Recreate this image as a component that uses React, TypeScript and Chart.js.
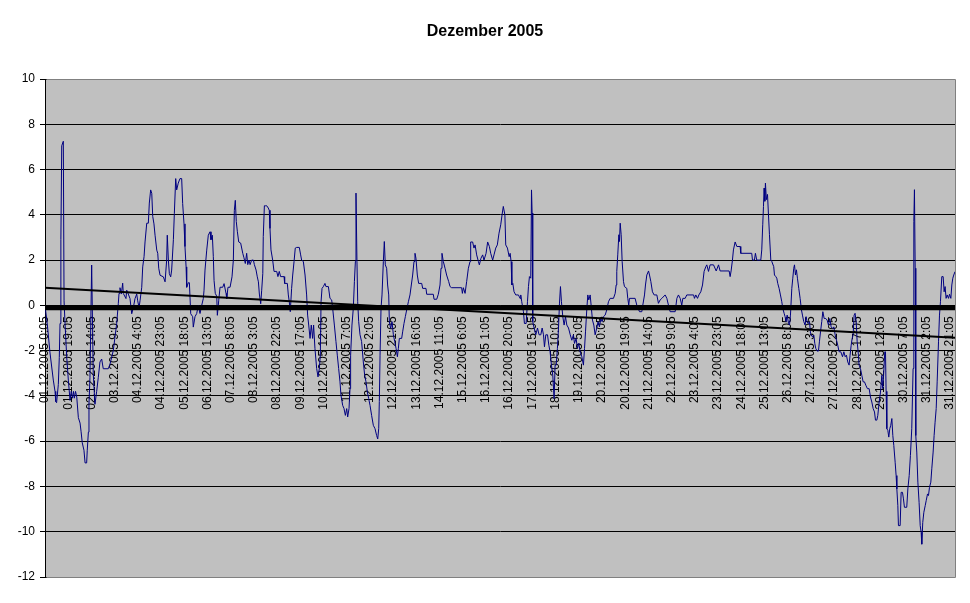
import React, { useEffect, useRef } from "react";
import { Chart, registerables } from "chart.js";

Chart.register(...registerables);

const chartTitle = "Dezember 2005";
const fontFamily = "'Liberation Sans', Arial, Helvetica, sans-serif";

const xTickLabels = [
  "01.12.2005 0:05", "01.12.2005 19:05", "02.12.2005 14:05", "03.12.2005 9:05",
  "04.12.2005 4:05", "04.12.2005 23:05", "05.12.2005 18:05", "06.12.2005 13:05",
  "07.12.2005 8:05", "08.12.2005 3:05", "08.12.2005 22:05", "09.12.2005 17:05",
  "10.12.2005 12:05", "11.12.2005 7:05", "12.12.2005 2:05", "12.12.2005 21:05",
  "13.12.2005 16:05", "14.12.2005 11:05", "15.12.2005 6:05", "16.12.2005 1:05",
  "16.12.2005 20:05", "17.12.2005 15:05", "18.12.2005 10:05", "19.12.2005 5:05",
  "20.12.2005 0:05", "20.12.2005 19:05", "21.12.2005 14:05", "22.12.2005 9:05",
  "23.12.2005 4:05", "23.12.2005 23:05", "24.12.2005 18:05", "25.12.2005 13:05",
  "26.12.2005 8:05", "27.12.2005 3:05", "27.12.2005 22:05", "28.12.2005 17:05",
  "29.12.2005 12:05", "30.12.2005 7:05", "31.12.2005 2:05", "31.12.2005 21:05",
];
const labelEveryHours = 19;
const xMin = 0;
const xMax = 745;

// hours since 01.12.2005 0:05
const seriesHours = [
  0, 2, 4.1, 6.8, 8.2, 8.8, 9.5, 10.9, 11.7, 12.3, 13, 13.7, 15, 15.6, 16.4, 17.8, 19.1, 20.5,
  21.5, 22.5, 23.3, 24, 25, 26, 27.3, 28.7, 29.5, 30.5, 31.9, 32.8, 34.1, 34.6, 35.5, 36, 36.8,
  38.2, 39.5, 40.9, 42.3, 43.6, 45, 46.4, 47.7, 51.8, 53.2, 55.9, 57.3, 58.7, 60, 60.6, 61.4,
  62.5, 63.6, 64.1, 66.3, 66.9, 68.2, 69.6, 71, 72.3, 73.7, 75.1, 75.9, 77, 77.8, 79.2, 80,
  81.1, 81.9, 83.3, 84.6, 85.4, 86.5, 87.4, 88.2, 89.2, 90.1, 91.5, 92.3, 93.1, 94.2, 96.9,
  98.3, 99.6, 100.1, 101, 101.8, 102.9, 103.7, 105.1, 105.9, 107, 107.8, 109.1, 110.5, 111.9,
  112.7, 113.8, 114.6, 115.5, 116, 117.3, 118.2, 119.3, 120.9, 121.4, 122.8, 124.2, 125.5,
  126.9, 128.3, 129.6, 130.2, 131, 132.4, 133.7, 135.1, 135.9, 137, 137.8, 138.4, 139.4,
  140.6, 141.1, 142.2, 143.3, 145.5, 146.6, 148.2, 148.8, 149.8, 151.5, 153.1, 154.2, 155,
  155.8, 156.6, 157.5, 158.6, 160.2, 161.9, 162.9, 164, 165.1, 166, 167, 167.9, 169.2, 170.6,
  171.4, 172.8, 173.8, 174.7, 175.5, 176.6, 177.4, 178.3, 178.7, 179.6, 180.4, 181.5, 182.8,
  183.6, 184.2,
  185, 186.4, 187.5, 189.7, 190.7, 191.8, 192.9, 195.7, 196.2, 198.4, 199.2, 200, 200.8,
  201.9, 202.8, 203.9, 204.9, 206, 208.2, 209.3, 210.1, 211.5, 212.9, 214.2, 215, 215.9, 217,
  218, 219.1, 219.9, 221, 222.4, 223.5, 224.6, 225.4, 226, 226.8, 227.9, 229.2, 230, 232,
  233.3, 234.7, 235.5, 236.9, 238.2, 239.3, 240.4, 241.5, 242.3, 243.7, 244.8, 245.9, 247,
  247.8, 248.9, 249.7, 250.2, 251.3, 252.4, 253.3, 254.1, 254.6, 255.4, 256, 256.8, 257.9,
  259.2, 260.6, 261.7, 262.8, 263.9, 265, 266.1, 267.4, 268.8, 270.2, 271.5, 272.4, 273.2,
  273.7, 274.3, 275.1, 275.9, 277, 277.8, 278.6, 279.7, 280.5, 281.4, 281.9, 283, 284.1,
  285.2, 286.3, 287.4, 288.5, 289.3, 290.1, 292, 292.8, 293.9, 295, 296.1, 297.5, 298.8,
  299.9, 301, 302.1, 302.9, 303.7, 304.8, 305.9, 308.4, 309.2, 311.9, 312.5, 317.9, 318.5,
  320.7, 322, 323.4, 324.2, 325, 326.1, 327.5, 328.8, 330.5, 331.6, 332.9, 341.1, 341.7,
  342.5, 343.9, 345.2, 346.6, 348, 348.5, 350.1, 351.2, 352.1, 353.4, 354.8, 355.6, 356.9,
  358.3, 359.4, 361.1, 362.4, 363.8, 364.9, 366.5, 367.6, 369, 370.3, 371.7, 373.1, 374.4,
  375.2,
  376.5, 377.2, 378.6, 380, 380.8, 381.6, 382.2, 383, 384, 385.4, 387.6, 389, 389.5, 390.3,
  391.7, 392.5, 393.9, 395, 395.8, 396.6, 397.7, 398.3, 398.8, 399.3, 400.4, 401.8, 403.2,
  404.5, 405.9, 407, 408.1, 408.9, 410, 411.4, 412.5, 413.5, 414.6, 415.7, 416.8, 417.6,
  418.5, 419.5, 420.4, 421.2, 422, 422.8, 423.9, 425, 426.1, 427.2, 428.6, 430, 431.3, 432.6,
  433.5, 434.8, 435.9, 437, 438.1, 439.5, 440.8, 441.7, 442.5, 443.6, 444.4, 445.2, 446.3,
  447.1, 448.2, 449.3, 450.4, 451.7, 452.8, 453.9, 455, 456.1, 457.2, 458.6, 459.9, 461.3,
  462.7, 465.4, 466.8, 467.6, 468.1, 468.9, 469.8, 470.3, 470.9, 471.7, 472.5, 473.6, 474.4,
  476.3, 477.1, 477.9, 478.5, 483.1, 484.5, 486.7, 488.6, 489.4, 490.8, 491.6, 492.7, 494.1,
  494.9, 496, 497.3, 498.7, 500.9, 502.2, 503.6, 505, 507.7, 509.1, 510.4, 511.8, 515.9,
  517.3, 518.6, 520, 521.3, 522.2, 524.1, 525.4, 531, 531.7, 532.8, 534.2, 535.3, 536.9,
  538.3, 539.6, 541, 541.8, 543.2, 544.5, 547.3, 549.5, 551.4, 552.7, 560.1, 560.9, 561.7,
  562.8, 563.6,
  565, 566.4, 569.1, 569.6, 578.6, 579.2, 580.8, 581.6, 582.7, 586, 586.8, 587.6, 588.2,
  588.7, 589.3, 589.8, 590.6, 591.5, 592.3, 593.1, 594.2, 595, 596.6, 597.2, 598.3, 599.1,
  599.9, 601, 602.1, 603.2, 604, 605.1, 605.9, 606.7, 607.6, 608.7, 609.5, 610.3, 611.4,
  612.2, 613, 613.6, 614.4, 615.2, 616, 617.1, 618.2, 619.3, 620.1, 621.2, 622.3, 623.1,
  623.9, 624.8, 625.9, 626.7, 627.2, 628.3, 629.4, 630.2, 631, 632.1, 633.2, 634, 634.9,
  635.9, 636.8, 637.9, 639.2, 640.3, 641.4, 642.5, 643.6, 644.7, 645.8, 646.9, 648, 649,
  650.1, 651.5, 652.9, 654, 655.1, 656.1, 657.2, 658.3, 659.1, 660, 660.8, 661.6, 662.4,
  663.2, 664.1, 664.9, 665.7, 666.5, 667.6, 668.7, 669.8, 670.9, 672, 673.3, 674.7, 675.8,
  676.9, 678, 679.1, 679.9, 681, 681.8, 682.9, 684, 685.1, 685.9, 686.7, 687.5, 688.1, 688.6,
  689.2, 690, 690.8, 691.6, 692.4, 693.3, 694.1, 694.9, 696, 696.8, 697.4, 698.2, 698.7,
  700.1, 700.9, 702, 702.8, 703.6, 705.5, 706.4, 707.5, 708.5, 709.6, 710.7, 711.3, 711.8,
  712.4, 712.9, 713.7, 714.6, 715.6, 716.5, 717.3, 717.8, 718.6, 719.5, 720.6, 721.4, 722.5,
  723.3, 724.1, 725.2, 726, 727.1, 727.9, 728.7, 729.6, 730.4, 731.5, 732.3, 733.1, 734.2,
  735.3, 736.1, 736.9, 737.7, 738.6, 739.7, 740.5, 741.6, 742.4, 743.2, 744, 745,
];

const seriesValues = [
  0, -0.9, -2.1, -3.3, -3.8, -4.25, -4.3, -3.5, -2.3, -0.8, 2.9, 7.05, 7.25, 0.2, -0.8, -2.3, -3.3, -4.2,
  -3.8, -4.1, -3.8, -4.1, -3.8, -4.05, -4.96, -5.2, -5.56, -6.07, -6.4, -6.96, -6.96, -6.4, -5.6, -4.37, -3.2,
  1.78, -3.0, -4.37, -3.8, -3.2, -2.5, -2.37, -2.8, -2.8, -2.6, -2.0, -1.4, -0.8, 0.07, 0.53, 0.78,
  0.5, 0.98, 0.53, 0.3, 0.67, 0.5, 0.3, -0.37, -0.1, 0.3, 0.5, 0.2, -0.1, 0.2, 0.8, 1.7,
  2.15, 2.8, 3.63, 3.63, 4.52, 5.1, 4.95, 3.93, 3.6, 3.1, 2.44, 2.3, 1.64, 1.33, 1.26,
  1.04, 2.0, 3.1, 2.0, 1.4, 1.26, 1.56, 2.9, 4.07, 5.6, 5.1, 5.4, 5.6, 5.6,
  4.5, 3.6, 2.6, 1.7, 0.8, 1.0, 1.0, -0.37, -0.5, -0.96, -0.5, -0.36, 0,
  -0.36, 0, 0.3, 0.67, 1.56, 2.44, 3.1, 3.25, 2.9, 3.1, 2.15, 1.1, 0.53,
  0.4, -0.44, 0.2, 0.8, 0.8, 0.96, 0.53, 0.3, 0.8, 0.8, 1.26, 2.0, 4.2,
  4.64, 3.7, 3.25, 2.8, 2.75, 2.3, 2.1, 1.85, 2.3, 1.8, 2.0, 1.8, 2.0, 2.0,
  1.8, 1.56, 1.26, 1.04, 0.5, 0.07, 0.67, 1.4, 3.04, 4.4, 4.4, 4.4, 4.3,
  4.2, 3.4,
  2.45, 2.0, 1.5, 1.5, 1.27, 1.5, 1.27, 1.27, 0.97, 0.97, 0.46, 0.16, -0.28,
  0.75, 1.34, 1.94, 2.53, 2.56, 2.56, 2.23, 2.0, 1.94, 1.34, 0.46, -0.43, -0.87, -1.46,
  -0.87, -1.46, -0.87, -1.9, -2.79, -3.16, -2.79, -2.2, 0.16, 0.75, 0.83, 0.97, 0.83, 0.83,
  0.31, 0.24, -0.13, -0.87, -1.6, -2.2, -2.79, -3.38, -3.97, -4.42, -4.56, -4.86, -4.56,
  -4.93, -4.56, -3.68, -2.2, -0.87, -0.13, 1.05, 1.94, 4.96, 1.94, 0.16, -0.72, -1.3,
  -1.6, -2.5, -3.09, -3.38, -3.83, -4.12, -4.42, -4.86, -5.3, -5.45, -5.75, -5.9, -5.45,
  -4.25, -2.2, -0.13, 0.46, 1.94, 2.82, 1.79, 1.64, 0.9, 0.46, -0.72, -1.02, -0.72,
  -1.3, -1.6, -1.9, -2.27, -1.9, -1.46, -1.46, -1.17, -0.8, -0.5, -0.2, 0.16, 0.46,
  0.9, 1.34, 1.94, 2.3, 2.08, 1.34, 0.97, 0.97, 0.75, 0.75, 0.49, 0.49, 0.27,
  0.27, 0.49, 0.9, 1.64, 2.3, 1.94, 1.64, 1.34, 1.05, 0.83, 0.78, 0.78, 0.53,
  0.78, 0.53, 1.05, 1.64, 1.94, 2.8, 2.8, 2.53, 2.67, 2.23, 1.94, 1.79, 2.08,
  2.23, 2.0, 2.3, 2.8, 2.6, 2.3, 2.0, 2.23, 2.53, 2.67, 3.19, 3.56, 4.08,
  4.37,
  4.0, 2.67, 2.53, 2.15, 2.3, 1.93, 0.9, 0.97, 0.6, 0.46, 0.46, 0.3, 0.46, 0.16,
  -0.28, -0.8, -0.8, 0.16, 0.83, 1.27, 1.2, 5.1, 4.08, -0.72, -1.0, -1.3, -1.0,
  -1.3, -1.3, -1.0, -1.3, -1.83, -1.3, -1.3, -1.76, -2.05, -2.64, -3.09, -4.12, -2.64,
  -2.64, -1.9, -1.0, 0.1, 0.83, 0.16, -0.5, -0.87, -0.5, -0.87, -1.0, -1.3, -1.54, -1.3,
  -1.68, -1.46, -1.9, -1.68, -2.05, -2.27, -2.64, -1.9, -1.17, -0.13, 0.46, 0.24, 0.46,
  0.01, -0.65, -0.87, -1.3, -1.0, -0.72, -0.95, -0.58, -0.72, -0.5, -0.43, -0.2, 0.16,
  0.31, 0.31, 0.53, 0.9, 1.5, 2.23, 3.12, 2.82, 3.63, 3.12, 1.94, 1.05, 0.83,
  0.75, 0.31, 0.01, 0.31, 0.31, 0.01, -0.28, -0.28, 0.01, 0.46, 0.9, 1.34, 1.52,
  1.34, 1.05, 0.6, 0.46, 0.46, 0.09, 0.24, 0.31, 0.46, 0.31, 0.01, -0.28, -0.28,
  0.31, 0.46, 0.31, 0.01, 0.31, 0.31, 0.46, 0.46, 0.31, 0.46, 0.31, 0.46, 0.6,
  0.9, 1.5, 1.71, 1.79, 1.5, 1.79, 1.79, 1.52, 1.79, 1.52, 1.52, 1.27, 1.52,
  2.0, 2.45,
  2.8, 2.6, 2.6, 2.3, 2.3, 2.0, 2.0, 2.3, 2.0, 2.0, 2.45, 3.56, 4.37,
  5.18, 4.6, 5.4, 4.67, 4.9, 4.0, 3.12, 2.0, 1.94, 1.71, 1.34, 1.27, 1.2,
  0.97, 0.75, 0.46, 0.16, -0.13, -0.35, -0.5, -0.72, -0.43, -0.8, -0.87, -0.43, 0.75,
  1.2, 1.64, 1.79, 1.34, 1.57, 1.2, 0.75, 0.31, -0.2, -0.43, -0.72, -0.87, -0.5,
  -0.72, -0.8, -0.72, -1.24, -1.31, -1.39, -1.31, -1.68, -1.9, -2.02, -2.02, -1.61, -1.17,
  -0.72, -0.28, -0.58, -0.58, -0.65, -0.87, -0.58, -0.95, -1.02, -0.95, -1.31, -1.54, -1.76,
  -2.05, -2.05, -2.27, -2.05, -2.27, -2.2, -2.5, -2.64, -2.2, -1.76, -1.46, -1.31, -0.43,
  -0.35, -0.72, -1.61, -2.05, -2.64, -2.79, -3.09, -3.38, -3.38, -3.53, -3.68, -3.68, -4.05,
  -4.27, -4.56, -4.71, -5.07, -5.07, -4.86, -4.27, -3.83, -3.09, -3.68, -2.94, -2.05, -2.05, -3.8,
  -5.45, -5.52, -5.82, -5.45, -5.3, -5.0, -5.75, -6.19, -6.93, -7.52, -8.11, -8.85, -9.73,
  -9.73, -8.26, -8.26, -8.55, -8.92, -8.92, -8.11, -7.52, -6.63, -5.45, -2.79, 3.71, 5.11,
  1.64, -5.75, -6.48, -7.81, -8.7, -9.73, -10.03, -10.55, -9.59, -9.14, -8.85, -8.63, -8.33,
  -8.4, -8.04, -7.81, -7.22, -6.48, -5.75, -5.16, -4.56, -3.38, -1.61, -0.43, 0.16, 1.27,
  1.27, 0.6, 0.83, 0.31, 0.46, 0.31, 0.49, 0.31, 0.9, 1.2, 1.34, 1.49,
];

// linear trend of the series
const trendHours = [0, 745];
const trendValues = [0.78, -1.43];

// heavy reference line near zero
const baseLineHours = [0, 745];
const baseLineValues = [-0.1, -0.1];

const yMin = -12;
const yMax = 10;
const yStep = 2;

const plotFrame = {
  id: "plotFrame",
  beforeDraw(chart: any) {
    const { ctx, chartArea: a } = chart;
    ctx.save();
    ctx.fillStyle = "#C0C0C0";
    ctx.fillRect(a.left, a.top, a.right - a.left, a.bottom - a.top);
    ctx.restore();
  },
  afterDraw(chart: any) {
    const { ctx, chartArea: a } = chart;
    const l = Math.round(a.left) + 0.5;
    const r = Math.round(a.right) + 0.5;
    const t = Math.round(a.top) + 0.5;
    const b = Math.round(a.bottom) + 0.5;
    ctx.save();
    ctx.strokeStyle = "#808080";
    ctx.lineWidth = 1;
    ctx.beginPath();
    ctx.moveTo(l + 1, t);
    ctx.lineTo(r, t);
    ctx.lineTo(r, b);
    ctx.lineTo(l + 1, b);
    ctx.stroke();
    ctx.restore();
  },
};

export default function App() {
  const canvasRef = useRef<HTMLCanvasElement | null>(null);

  useEffect(() => {
    const canvas = canvasRef.current;
    if (!canvas) return;
    const chart = new Chart(canvas, {
      type: "line",
      data: {
        datasets: [
          {
            label: "Messwert",
            data: seriesHours.map((h, i) => ({ x: h, y: seriesValues[i] })),
            borderColor: "#000080",
            borderWidth: 1,
            pointRadius: 0,
            tension: 0,
            order: 3,
          },
          {
            label: "Null",
            data: baseLineHours.map((h, i) => ({ x: h, y: baseLineValues[i] })),
            borderColor: "#000000",
            borderWidth: 5,
            pointRadius: 0,
            order: 2,
          },
          {
            label: "Trend",
            data: trendHours.map((h, i) => ({ x: h, y: trendValues[i] })),
            borderColor: "#000000",
            borderWidth: 2,
            pointRadius: 0,
            order: 1,
          },
        ],
      },
      options: {
        animation: false,
        responsive: false,
        devicePixelRatio: 1,
        events: [],
        layout: { padding: { top: 0, left: 15, right: 15, bottom: 26 } },
        plugins: {
          legend: { display: false },
          tooltip: { enabled: false },
          title: {
            display: true,
            text: chartTitle,
            color: "#000000",
            font: { family: fontFamily, size: 16, weight: "bold", lineHeight: 1.2 },
            padding: { top: 22, bottom: 37.8 },
          },
        },
        scales: {
          x: {
            type: "linear",
            position: { y: 0 } as any,
            min: xMin,
            max: xMax,
            grid: { display: false, drawTicks: true, tickLength: 8 },
            border: { display: false },
            afterBuildTicks: (scale: any) => {
              scale.ticks = xTickLabels.map((_, i) => ({ value: i * labelEveryHours }));
            },
            ticks: {
              autoSkip: false,
              minRotation: 90,
              maxRotation: 90,
              padding: 3,
              color: "#000000",
              font: { family: fontFamily, size: 12 },
              callback: (value: any) => xTickLabels[Math.round(Number(value) / labelEveryHours)] ?? "",
            },
          },
          y: {
            type: "linear",
            min: yMin,
            max: yMax,
            afterFit: (scale: any) => {
              scale.width = 30;
            },
            grid: { color: "#000000", lineWidth: 1, drawTicks: true, tickLength: 5 },
            border: { color: "#000000", width: 1 },
            ticks: {
              stepSize: yStep,
              padding: 5,
              color: "#000000",
              font: { family: fontFamily, size: 12 },
            },
          },
        },
      },
      plugins: [plotFrame],
    } as any);
    return () => chart.destroy();
  }, []);

  return (
    <div style={{ position: "absolute", left: 0, top: 0, width: 970, height: 603, background: "#ffffff" }}>
      <canvas ref={canvasRef} width={970} height={603} />
    </div>
  );
}
